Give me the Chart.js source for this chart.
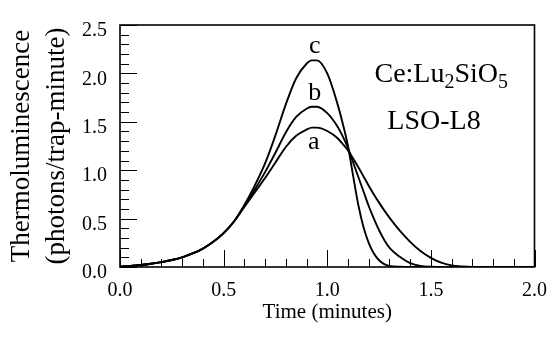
<!DOCTYPE html>
<html>
<head>
<meta charset="utf-8">
<script src="https://cdn.jsdelivr.net/npm/chart.js@4.4.0/dist/chart.umd.min.js"></script>
<style>
  html, body { margin: 0; padding: 0; background: #fff; }
  #wrap { width: 559px; height: 344px; }
</style>
</head>
<body>
<div id="wrap"><canvas id="tl-chart" width="559" height="344"></canvas></div>
<script>
// Time (minutes) for every sample
const time = [0, 0.05, 0.1, 0.15, 0.2, 0.25, 0.3, 0.35, 0.4, 0.45, 0.5, 0.55,
  0.6, 0.65, 0.7, 0.75, 0.8, 0.85, 0.9, 0.925, 0.95, 1.0,
  1.05, 1.075, 1.1, 1.125, 1.15, 1.175, 1.2, 1.225, 1.25, 1.275, 1.3,
  1.35, 1.4, 1.45, 1.5, 1.55, 1.6, 1.65, 1.7, 1.8, 1.9, 2.0];

// Thermoluminescence (photons/trap-minute)
const curveA = [0.004, 0.01, 0.02, 0.033, 0.05, 0.072, 0.10, 0.14, 0.19, 0.26, 0.35, 0.47,
  0.62, 0.77, 0.92, 1.08, 1.24, 1.355, 1.42, 1.44, 1.44, 1.405,
  1.33, 1.27, 1.205, 1.12, 1.03, 0.935, 0.84, 0.75, 0.665, 0.585, 0.51,
  0.375, 0.26, 0.165, 0.095, 0.045, 0.017, 0.005, 0, 0, 0, 0];
const curveB = [0.004, 0.01, 0.02, 0.033, 0.05, 0.072, 0.10, 0.14, 0.19, 0.26, 0.35, 0.47,
  0.63, 0.80, 0.98, 1.18, 1.39, 1.55, 1.635, 1.655, 1.655, 1.59,
  1.45, 1.35, 1.23, 1.08, 0.93, 0.78, 0.63, 0.50, 0.38, 0.28, 0.20,
  0.105, 0.04, 0.012, 0.003, 0, 0, 0, 0, 0, 0, 0];
const curveC = [0.004, 0.01, 0.02, 0.033, 0.05, 0.072, 0.10, 0.14, 0.19, 0.26, 0.35, 0.47,
  0.64, 0.84, 1.07, 1.36, 1.68, 1.95, 2.10, 2.135, 2.135, 2.0,
  1.68, 1.48, 1.25, 0.94, 0.64, 0.41, 0.25, 0.14, 0.07, 0.03, 0.012,
  0.002, 0, 0, 0, 0, 0, 0, 0, 0, 0, 0];

const curveNames = ["a", "b", "c"];
const xTickLabels = ["0.0", "0.5", "1.0", "1.5", "2.0"];
const yTickLabels = ["0.0", "0.5", "1.0", "1.5", "2.0", "2.5"];

// where the curve letters and the sample text sit, in data units
const curveLabelPos = [[0.935, 1.29], [0.94, 1.80], [0.94, 2.285]];
const formulaPos = [1.55, 1.99];
const samplePos = [1.515, 1.50];

const serif = "'Liberation Serif', 'Times New Roman', serif";

function toPoints(ys) {
  return ys.map((v, i) => ({ x: time[i], y: v }));
}

function isMajor(v) {
  return Math.abs(v * 2 - Math.round(v * 2)) < 1e-6;
}

function majorLabel(v, labels) {
  if (!isMajor(v)) return "";
  return labels[Math.round(v * 2)];
}

// frame, inward ticks and text labels
const decorPlugin = {
  id: "decor",
  afterDraw(chart) {
    const { ctx, chartArea: area, scales: { x, y } } = chart;
    ctx.save();
    ctx.strokeStyle = "#000";
    ctx.lineWidth = 1;
    x.ticks.forEach(t => {
      const px = Math.round(x.getPixelForValue(t.value)) + 0.5;
      const len = isMajor(t.value) ? 17 : 8;
      ctx.beginPath();
      ctx.moveTo(px, area.bottom);
      ctx.lineTo(px, area.bottom - len);
      ctx.stroke();
    });
    y.ticks.forEach(t => {
      const py = Math.round(y.getPixelForValue(t.value)) + 0.5;
      const len = isMajor(t.value) ? 17 : 9;
      ctx.beginPath();
      ctx.moveTo(area.left, py);
      ctx.lineTo(area.left + len, py);
      ctx.stroke();
    });
    ctx.lineWidth = 1.6;
    ctx.strokeRect(area.left, area.top, area.right - area.left, area.bottom - area.top);

    ctx.fillStyle = "#000";
    ctx.textBaseline = "middle";
    ctx.textAlign = "center";
    ctx.font = "26px " + serif;
    curveNames.forEach((n, i) => {
      ctx.fillText(n, x.getPixelForValue(curveLabelPos[i][0]), y.getPixelForValue(curveLabelPos[i][1]));
    });
    ctx.font = "28px " + serif;
    ctx.fillText("LSO-L8", x.getPixelForValue(samplePos[0]), y.getPixelForValue(samplePos[1]));

    // Ce:Lu2SiO5 with subscripts
    const parts = [["Ce:Lu", false], ["2", true], ["SiO", false], ["5", true]];
    const big = "28px " + serif, small = "20px " + serif;
    let total = 0;
    parts.forEach(p => { ctx.font = p[1] ? small : big; total += ctx.measureText(p[0]).width; });
    let cx = x.getPixelForValue(formulaPos[0]) - total / 2;
    const cy = y.getPixelForValue(formulaPos[1]);
    ctx.textAlign = "left";
    parts.forEach(p => {
      ctx.font = p[1] ? small : big;
      ctx.fillText(p[0], cx, p[1] ? cy + 8 : cy);
      cx += ctx.measureText(p[0]).width;
    });
    ctx.restore();
  }
};

const ctx = document.getElementById("tl-chart").getContext("2d");

const lineStyle = {
  borderColor: "#000",
  borderWidth: 1.9,
  pointRadius: 0,
  fill: false,
  cubicInterpolationMode: "monotone"
};

new Chart(ctx, {
  type: "line",
  data: {
    datasets: [
      { label: curveNames[0], data: toPoints(curveA), ...lineStyle },
      { label: curveNames[1], data: toPoints(curveB), ...lineStyle },
      { label: curveNames[2], data: toPoints(curveC), ...lineStyle }
    ]
  },
  options: {
    responsive: false,
    animation: false,
    layout: { padding: { top: 11, right: 15, left: 0, bottom: 0 } },
    plugins: { legend: { display: false }, tooltip: { enabled: false } },
    scales: {
      x: {
        type: "linear",
        min: 0,
        max: 2,
        grid: { display: false, drawTicks: false },
        border: { display: false },
        ticks: {
          stepSize: 0.1,
          autoSkip: false,
          maxRotation: 0,
          padding: 12,
          color: "#000",
          font: { family: serif, size: 20 },
          callback: v => majorLabel(v, xTickLabels)
        },
        title: {
          display: true,
          text: "Time (minutes)",
          color: "#000",
          font: { family: serif, size: 21 },
          padding: { top: 0, bottom: 19 }
        },
        afterFit: s => { s.height = 77; }
      },
      y: {
        min: 0,
        max: 2.5,
        grid: { display: false, drawTicks: false },
        border: { display: false },
        ticks: {
          stepSize: 0.1,
          autoSkip: false,
          padding: 13,
          labelOffset: 6,
          color: "#000",
          font: { family: serif, size: 20 },
          callback: v => majorLabel(v, yTickLabels)
        },
        title: {
          display: true,
          text: ["Thermoluminescence", "(photons/trap-minute)"],
          color: "#000",
          font: { family: serif, size: 27, lineHeight: 1.3 },
          padding: { top: 4, bottom: 0 }
        },
        afterFit: s => { s.width = 120; }
      }
    }
  },
  plugins: [decorPlugin]
});
</script>
</body>
</html>
